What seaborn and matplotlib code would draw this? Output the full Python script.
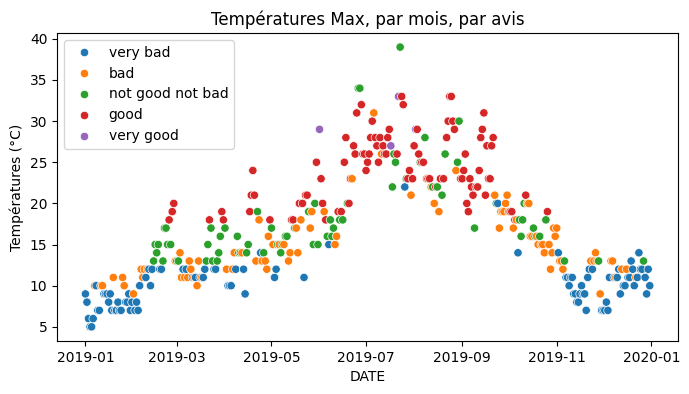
import pandas as pd
import numpy as np
import matplotlib
matplotlib.use("Agg")
import matplotlib.pyplot as plt
import seaborn as sns

avis_labels = ["very bad", "bad", "not good not bad", "good", "very good"]

# daily max temperature, one list per month (2019)
temp_jan = [9, 8, 6, 5, 5, 6, 10, 10, 7, 7, 10, 10, 9, 9, 9, 8, 9, 7, 11, 7, 7, 8, 7, 7, 11, 10, 8, 8, 9, 7, 8]
temp_feb = [9, 7, 8, 7, 10, 12, 11, 12, 11, 12, 12, 10, 12, 13, 15, 14, 15, 12, 12, 13, 17, 17, 15, 18, 15, 19, 20, 13]
temp_mar = [13, 13, 14, 11, 12, 11, 12, 11, 13, 12, 11, 11, 11, 10, 13, 11, 11, 11, 12, 13, 15, 18, 17, 13, 12, 12, 13, 14, 16, 19, 18]
temp_apr = [17, 12, 10, 10, 10, 12, 14, 12, 16, 14, 14, 14, 12, 9, 14, 15, 19, 21, 24, 21, 13, 19, 18, 14, 13, 14, 13, 12, 16, 18]
temp_may = [17, 15, 11, 12, 15, 15, 14, 15, 15, 16, 16, 13, 14, 18, 18, 17, 17, 14, 20, 18, 20, 11, 21, 21, 19, 17, 19, 15, 20, 25, 15]
temp_jun = [29, 23, 20, 19, 18, 16, 15, 18, 16, 17, 15, 16, 19, 18, 19, 18, 25, 28, 20, 20, 23, 23, 27, 26, 31, 34, 34, 32, 26, 26]
temp_jul = [24, 25, 26, 28, 30, 31, 28, 27, 25, 28, 26, 27, 26, 26, 28, 29, 27, 22, 26, 25, 26, 33, 39, 33, 32, 22, 23, 23, 24, 21, 23]
temp_aug = [27, 29, 29, 26, 25, 25, 25, 28, 23, 23, 23, 22, 22, 20, 22, 22, 19, 23, 21, 23, 26, 28, 30, 33, 33, 30, 29, 24, 25, 30, 23]
temp_sep = [23, 24, 26, 20, 19, 23, 22, 21, 17, 22, 22, 24, 28, 29, 31, 21, 27, 23, 23, 27, 28, 21, 20, 20, 17, 19, 19, 19, 20, 21]
temp_oct = [19, 19, 19, 17, 18, 18, 14, 18, 16, 18, 20, 21, 20, 20, 16, 16, 17, 16, 16, 15, 16, 15, 15, 14, 18, 19, 15, 12, 14, 17, 16]
temp_nov = [17, 14, 13, 13, 12, 13, 11, 11, 10, 11, 11, 9, 9, 8, 8, 9, 10, 9, 9, 7, 11, 12, 13, 12, 13, 14, 13, 13, 9, 7]
temp_dec = [7, 7, 8, 7, 11, 13, 13, 11, 11, 11, 12, 9, 12, 10, 10, 12, 11, 11, 13, 12, 10, 11, 11, 14, 12, 12, 13, 11, 9, 12, 10]

# avis per day, index into avis_labels
avis_jan = "0000001000110000001000001100000"
avis_feb = "1000011101000222200222232331"
avis_mar = "2211010111010110100223220022233"
avis_apr = "210001102221002233331210121113"
avis_may = "2100212212211332113130332112232"
avis_jun = "433132022211323233233133322333"
avis_jul = "3333313333133333422234233023313"
avis_aug = "3433233213312132132323333331223"
avis_sep = "333333332333333333333120111111"
avis_oct = "1331310222231111221121112311111"
avis_nov = "101112000000000000000010111210"
avis_dec = "0000011010001001000001000020000"

temps = (temp_jan + temp_feb + temp_mar + temp_apr + temp_may + temp_jun
         + temp_jul + temp_aug + temp_sep + temp_oct + temp_nov + temp_dec)
avis = (avis_jan + avis_feb + avis_mar + avis_apr + avis_may + avis_jun
        + avis_jul + avis_aug + avis_sep + avis_oct + avis_nov + avis_dec)

df = pd.DataFrame({
    "DATE": pd.date_range("2019-01-01", periods=len(temps), freq="D"),
    "TEMP": temps,
    "AVIS": [avis_labels[int(c)] for c in avis],
})

fig, ax = plt.subplots(figsize=(6.89, 3.94), dpi=100)
sns.scatterplot(data=df, x="DATE", y="TEMP", hue="AVIS", hue_order=avis_labels, ax=ax)
ax.set_title("Températures Max, par mois, par avis")
ax.set_xlabel("DATE")
ax.set_ylabel("Températures (°C)")
sns.move_legend(ax, "upper left", title=None)
fig.subplots_adjust(left=0.083, right=0.984, top=0.916, bottom=0.135)
fig.savefig("out.png", dpi=100)
